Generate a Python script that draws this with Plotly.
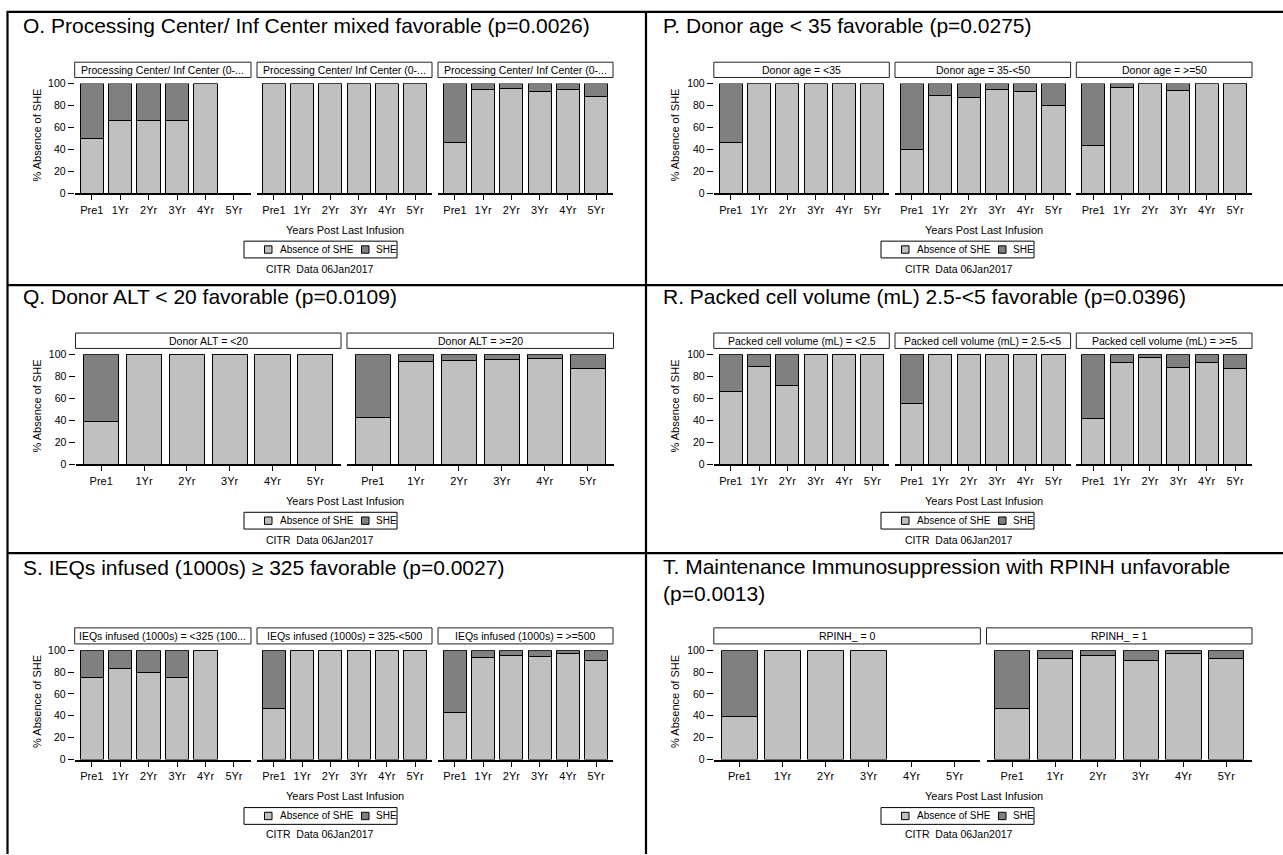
import plotly.graph_objects as go

W, H = 1283, 855

# ---------------- data ----------------
categories = ["Pre1", "1Yr", "2Yr", "3Yr", "4Yr", "5Yr"]
legend_labels = ["Absence of SHE", "SHE"]
footnote = "CITR  Data 06Jan2017"
x_title = "Years Post Last Infusion"
y_title = "% Absence of SHE"
y_ticks = [0, 20, 40, 60, 80, 100]

# O
o_title = "O. Processing Center/ Inf Center mixed favorable (p=0.0026)"
o_headers = ["Processing Center/ Inf Center (0-...", "Processing Center/ Inf Center (0-...",
             "Processing Center/ Inf Center (0-..."]
o_absence_1 = [50, 66.7, 66.7, 66.7, 100, None]
o_she_1 = [50, 33.3, 33.3, 33.3, 0, None]
o_absence_2 = [100, 100, 100, 100, 100, 100]
o_she_2 = [0, 0, 0, 0, 0, 0]
o_absence_3 = [46.4, 94.3, 95.8, 92.8, 94.6, 88.6]
o_she_3 = [53.6, 5.7, 4.2, 7.2, 5.4, 11.4]

# P
p_title = "P. Donor age &lt; 35 favorable (p=0.0275)"
p_headers = ["Donor age = &lt;35", "Donor age = 35-&lt;50", "Donor age = &gt;=50"]
p_absence_1 = [46.7, 100, 100, 100, 100, 100]
p_she_1 = [53.3, 0, 0, 0, 0, 0]
p_absence_2 = [40, 88.9, 87.7, 94.9, 93.1, 80.2]
p_she_2 = [60, 11.1, 12.3, 5.1, 6.9, 19.8]
p_absence_3 = [43.4, 96.4, 100, 94, 100, 100]
p_she_3 = [56.6, 3.6, 0, 6, 0, 0]

# Q
q_title = "Q. Donor ALT &lt; 20 favorable (p=0.0109)"
q_headers = ["Donor ALT = &lt;20", "Donor ALT = &gt;=20"]
q_absence_1 = [38.8, 100, 100, 100, 100, 100]
q_she_1 = [61.2, 0, 0, 0, 0, 0]
q_absence_2 = [43, 93.7, 94.3, 94.9, 96.4, 87.5]
q_she_2 = [57, 6.3, 5.7, 5.1, 3.6, 12.5]

# R
r_title = "R. Packed cell volume (mL) 2.5-&lt;5 favorable (p=0.0396)"
r_headers = ["Packed cell volume (mL) = &lt;2.5", "Packed cell volume (mL) = 2.5-&lt;5",
             "Packed cell volume (mL) = &gt;=5"]
r_absence_1 = [66.7, 88.9, 71.4, 100, 100, 100]
r_she_1 = [33.3, 11.1, 28.6, 0, 0, 0]
r_absence_2 = [55.6, 100, 100, 100, 100, 100]
r_she_2 = [44.4, 0, 0, 0, 0, 0]
r_absence_3 = [41.8, 92.2, 96.7, 88.4, 92.8, 87.5]
r_she_3 = [58.2, 7.8, 3.3, 11.6, 7.2, 12.5]

# S
s_title = "S. IEQs infused (1000s) ≥ 325 favorable (p=0.0027)"
s_headers = ["IEQs infused (1000s) = &lt;325 (100...", "IEQs infused (1000s) = 325-&lt;500",
             "IEQs infused (1000s) = &gt;=500"]
s_absence_1 = [75, 83.3, 80, 75, 100, None]
s_she_1 = [25, 16.7, 20, 25, 0, None]
s_absence_2 = [47.1, 100, 100, 100, 100, 100]
s_she_2 = [52.9, 0, 0, 0, 0, 0]
s_absence_3 = [43.2, 93.1, 95.2, 94, 97, 90.1]
s_she_3 = [56.8, 6.9, 4.8, 6, 3, 9.9]

# T
t_title = "T. Maintenance Immunosuppression with RPINH unfavorable<br>(p=0.0013)"
t_headers = ["RPINH_ = 0", "RPINH_ = 1"]
t_absence_1 = [39.6, 100, 100, 100, None, None]
t_she_1 = [60.4, 0, 0, 0, None, None]
t_absence_2 = [47.1, 92.5, 94.9, 90.7, 97.3, 92.8]
t_she_2 = [52.9, 7.5, 5.1, 9.3, 2.7, 7.2]

panels = [
    dict(title=o_title, headers=o_headers, absence=[o_absence_1, o_absence_2, o_absence_3],
         she=[o_she_1, o_she_2, o_she_3], col=0, row=0),
    dict(title=p_title, headers=p_headers, absence=[p_absence_1, p_absence_2, p_absence_3],
         she=[p_she_1, p_she_2, p_she_3], col=1, row=0),
    dict(title=q_title, headers=q_headers, absence=[q_absence_1, q_absence_2],
         she=[q_she_1, q_she_2], col=0, row=1),
    dict(title=r_title, headers=r_headers, absence=[r_absence_1, r_absence_2, r_absence_3],
         she=[r_she_1, r_she_2, r_she_3], col=1, row=1),
    dict(title=s_title, headers=s_headers, absence=[s_absence_1, s_absence_2, s_absence_3],
         she=[s_she_1, s_she_2, s_she_3], col=0, row=2),
    dict(title=t_title, headers=t_headers, absence=[t_absence_1, t_absence_2],
         she=[t_she_1, t_she_2], col=1, row=2),
]

# ---------------- geometry (pixels) ----------------
COLS = {
    0: dict(f3=[(74.7, 251), (257, 432), (438, 613)], f2=[(75.5, 341), (347, 613.5)],
            title_x=21, ytitle_x=37, legend_x=244, years_cx=345, citr_cx=320),
    1: dict(f3=[(713.8, 889.3), (895, 1070.6), (1076.3, 1252)], f2=[(713.8, 980.4), (986.5, 1252)],
            title_x=660.5, ytitle_x=675, legend_x=881, years_cx=984, citr_cx=959),
}
ROWS = {
    0: dict(title_y=20, head=(57, 72.5), plot=(78.7, 190), years=227, legend=(238.5, 255.5), citr=267),
    1: dict(title_y=295, head=(331.7, 347.3), plot=(353.3, 465), years=502, legend=(513.5, 530.5), citr=542),
    2: dict(title_y=569, head=(630.7, 647), plot=(653.3, 764.3), years=801, legend=(813, 830), citr=840),
}

LIGHT = "#C0C0C0"
DARK = "#808080"
FONT = "Arial, Liberation Sans, sans-serif"


def fx(px):
    return px / W


def fy(py):
    return 1 - py / H


fig = go.Figure()
layout = dict(
    width=W, height=H, margin=dict(l=0, r=0, t=0, b=0),
    paper_bgcolor="white", plot_bgcolor="white", barmode="stack", bargap=0.18,
    showlegend=False, font=dict(family=FONT, color="black", size=11),
)
shapes = []
annotations = []

ax = 0
for pnl in panels:
    cg = COLS[pnl["col"]]
    rg = ROWS[pnl["row"]]
    n = len(pnl["absence"])
    facets = cg["f3"] if n == 3 else cg["f2"]
    ptop, pbot = rg["plot"]
    for i in range(n):
        ax += 1
        xa = "x" if ax == 1 else f"x{ax}"
        ya = "y" if ax == 1 else f"y{ax}"
        xname = "xaxis" if ax == 1 else f"xaxis{ax}"
        yname = "yaxis" if ax == 1 else f"yaxis{ax}"
        x0, x1 = facets[i]
        fig.add_trace(go.Bar(x=categories, y=pnl["absence"][i], name=legend_labels[0],
                             marker=dict(color=LIGHT, line=dict(color="black", width=1)),
                             xaxis=xa, yaxis=ya, hoverinfo="x+y"))
        fig.add_trace(go.Bar(x=categories, y=pnl["she"][i], name=legend_labels[1],
                             marker=dict(color=DARK, line=dict(color="black", width=1)),
                             xaxis=xa, yaxis=ya, hoverinfo="x+y"))
        layout[xname] = dict(
            domain=[fx(x0), fx(x1)], anchor=ya, type="category",
            categoryorder="array", categoryarray=categories, range=[-0.6, 5.6],
            showline=True, linecolor="black", linewidth=2, ticks="outside", ticklen=5,
            tickwidth=1, tickcolor="black", showgrid=False, zeroline=False,
            tickfont=dict(size=11, family=FONT, color="black"), fixedrange=True,
            ticklabelstandoff=0,
        )
        layout[yname] = dict(
            domain=[fy(pbot), fy(ptop)], anchor=xa, range=[0, 100],
            showline=False, showgrid=False, zeroline=False, fixedrange=True,
            tickvals=y_ticks, ticks="outside" if i == 0 else "", ticklen=6,
            tickwidth=1, tickcolor="black", showticklabels=(i == 0),
            tickfont=dict(size=10.5, family=FONT, color="black"),
        )
        # facet header box
        h0, h1 = rg["head"]
        shapes.append(dict(type="rect", xref="paper", yref="paper", x0=fx(x0), x1=fx(x1),
                           y0=fy(h1), y1=fy(h0), line=dict(color="#222222", width=1),
                           fillcolor="white"))
        annotations.append(dict(text=pnl["headers"][i], xref="paper", yref="paper",
                                x=fx((x0 + x1) / 2), y=fy((h0 + h1) / 2), xanchor="center",
                                yanchor="middle", showarrow=False,
                                font=dict(size=10.5, family=FONT, color="black")))
    # panel title
    if "<br>" in pnl["title"]:
        ty = rg["title_y"] + 13
    else:
        ty = rg["title_y"]
    annotations.append(dict(text=pnl["title"], xref="paper", yref="paper", x=fx(cg["title_x"]),
                            y=fy(ty), xanchor="left", yanchor="middle", align="left",
                            showarrow=False, font=dict(size=21, family=FONT, color="black")))
    # y title
    annotations.append(dict(text=y_title, xref="paper", yref="paper", x=fx(cg["ytitle_x"]),
                            y=fy((ptop + pbot) / 2 - 3), xanchor="center", yanchor="middle",
                            textangle=-90, showarrow=False,
                            font=dict(size=11, family=FONT, color="black")))
    # x title
    annotations.append(dict(text=x_title, xref="paper", yref="paper", x=fx(cg["years_cx"]),
                            y=fy(rg["years"]), xanchor="center", yanchor="middle",
                            showarrow=False, font=dict(size=11, family=FONT, color="black")))
    # legend box
    lx = cg["legend_x"]
    l0, l1 = rg["legend"]
    lc = (l0 + l1) / 2
    shapes.append(dict(type="rect", xref="paper", yref="paper", x0=fx(lx), x1=fx(lx + 153),
                       y0=fy(l1), y1=fy(l0), line=dict(color="black", width=1), fillcolor="white"))
    for off, col, toff, lab in [(20.5, LIGHT, 33.5, legend_labels[0]), (117.5, DARK, 130, legend_labels[1])]:
        shapes.append(dict(type="rect", xref="paper", yref="paper", x0=fx(lx + off),
                           x1=fx(lx + off + 7.5), y0=fy(lc + 3.75), y1=fy(lc - 3.75),
                           line=dict(color="black", width=1), fillcolor=col))
        annotations.append(dict(text=lab, xref="paper", yref="paper", x=fx(lx + toff),
                                y=fy(lc), xanchor="left", yanchor="middle", showarrow=False,
                                font=dict(size=10, family=FONT, color="black")))
    # footnote
    annotations.append(dict(text=footnote, xref="paper", yref="paper", x=fx(cg["citr_cx"]),
                            y=fy(rg["citr"]), xanchor="center", yanchor="middle",
                            showarrow=False, font=dict(size=10.5, family=FONT, color="black")))

# panel border lines
for y in [6, 283, 555]:
    shapes.append(dict(type="line", xref="paper", yref="paper", x0=fx(7), x1=fx(W + 5),
                       y0=fy(y), y1=fy(y), line=dict(color="black", width=2.2)))
for x in [7.5, 646]:
    shapes.append(dict(type="line", xref="paper", yref="paper", x0=fx(x), x1=fx(x),
                       y0=fy(5), y1=fy(H + 5), line=dict(color="black", width=2.2)))

layout["shapes"] = shapes
layout["annotations"] = annotations
fig.update_layout(**layout)

fig.write_html("out.html", config={"displayModeBar": False},
               post_script="document.body.style.margin='0';document.body.style.overflow='hidden';")
